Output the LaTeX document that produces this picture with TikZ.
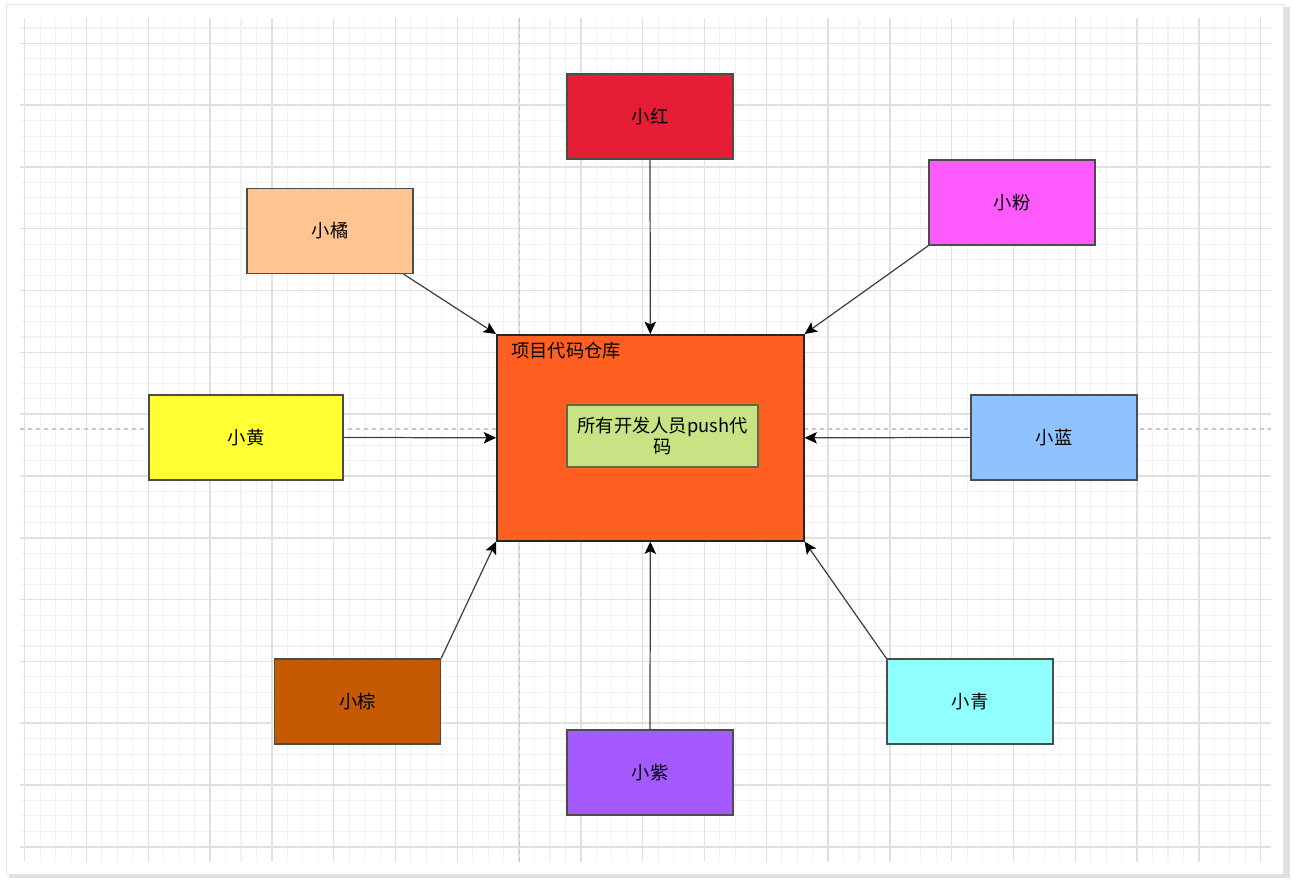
\documentclass[tikz,border=0pt]{standalone}
\usepackage{fontspec}
\setmainfont{Noto Sans CJK SC}
\usetikzlibrary{positioning, arrows.meta}

\definecolor{hongse}{HTML}{E51D35}
\definecolor{fense}{HTML}{FF5AFF}
\definecolor{juse}{HTML}{FFC590}
\definecolor{huangse}{HTML}{FFFF33}
\definecolor{lanse}{HTML}{8FC3FF}
\definecolor{zongse}{HTML}{C55A03}
\definecolor{zise}{HTML}{A55AFF}
\definecolor{qingse}{HTML}{8FFFFF}
\definecolor{cangkuse}{HTML}{FF6021}
\definecolor{pushse}{HTML}{C8E384}
\definecolor{pushbian}{HTML}{606B45}

\begin{document}
\begin{tikzpicture}[
    x=0.02cm, y=-0.02cm,
    font=\fontsize{10.4}{12}\selectfont,
    person/.style={rectangle, draw=black!70, line width=0.8pt, minimum width=3.32cm, minimum height=1.7cm, inner sep=0pt},
    arrow/.style={-{Stealth[length=7pt, width=6.5pt, inset=1.5pt, black]}, draw=black!75, line width=0.7pt},
    minorline/.style={draw=black!5, line width=0.6pt},
    majorline/.style={draw=black!12, line width=0.8pt},
    guide/.style={draw=black!22, dash pattern=on 0.08cm off 0.08cm, line width=0.6pt}
  ]

  % 页面与阴影
  \useasboundingbox (0,0) rectangle (1294,884);
  \fill[white] (0,0) rectangle (1294,884);
  \fill[black!12] (9,7) rectangle (1290,878);
  \fill[white, draw=black!10] (6,4) rectangle (1283,874);

  % 背景网格
  \foreach \i in {0,...,80}
    \draw[minorline] ({24.7+15.45*\i},18) -- ({24.7+15.45*\i},862);
  \foreach \i in {0,...,53}
    \draw[minorline] (20,{28+15.45*\i}) -- (1271,{28+15.45*\i});
  \foreach \i in {0,...,20}
    \draw[majorline] ({24.7+61.8*\i},18) -- ({24.7+61.8*\i},862);
  \foreach \i in {0,...,13}
    \draw[majorline] (20,{43.4+61.8*\i}) -- (1271,{43.4+61.8*\i});
  \draw[guide] (519.3,18) -- (519.3,862);
  \draw[guide] (20,429) -- (1271,429);

  % 代码仓库
  \node[rectangle, draw=black!85, line width=0.9pt, fill=cangkuse, minimum width=6.14cm, minimum height=4.12cm] (cangku) at (650.3,437.8) {};
  \node[anchor=west, inner sep=0pt] (title) at (511,350.7) {项目代码仓库};
  \node[rectangle, draw=pushbian, line width=0.9pt, fill=pushse, minimum width=3.83cm, minimum height=1.23cm, inner sep=0pt, align=center] (push) at (662.5,436) {所有开发人员push代\\码};

  % 开发人员
  \node[person, fill=hongse] (hong) at (650,116.5) {小红};
  \node[person, fill=fense] (fen) at (1012,202.5) {小粉};
  \node[person, fill=juse] (ju) at (330,231) {小橘};
  \node[person, fill=huangse, minimum width=3.88cm] (huang) at (246,437.5) {小黄};
  \node[person, fill=lanse] (lan) at (1054,437.5) {小蓝};
  \node[person, fill=zongse] (zong) at (357.5,701.5) {小棕};
  \node[person, fill=zise] (zi) at (650,772.5) {小紫};
  \node[person, fill=qingse] (qing) at (970,701.5) {小青};

  % 提交箭头
  \draw[arrow] (hong.south) -- (cangku.north);
  \draw[arrow] (fen.south west) -- (cangku.north east);
  \draw[arrow] ([xshift=-0.2cm]ju.south east) -- (cangku.north west);
  \draw[arrow] (huang.east) -- (cangku.west);
  \draw[arrow] (lan.west) -- (cangku.east);
  \draw[arrow] (zong.north east) -- (cangku.south west);
  \draw[arrow] (zi.north) -- (cangku.south);
  \draw[arrow] (qing.north west) -- (cangku.south east);

\end{tikzpicture}
\end{document}
